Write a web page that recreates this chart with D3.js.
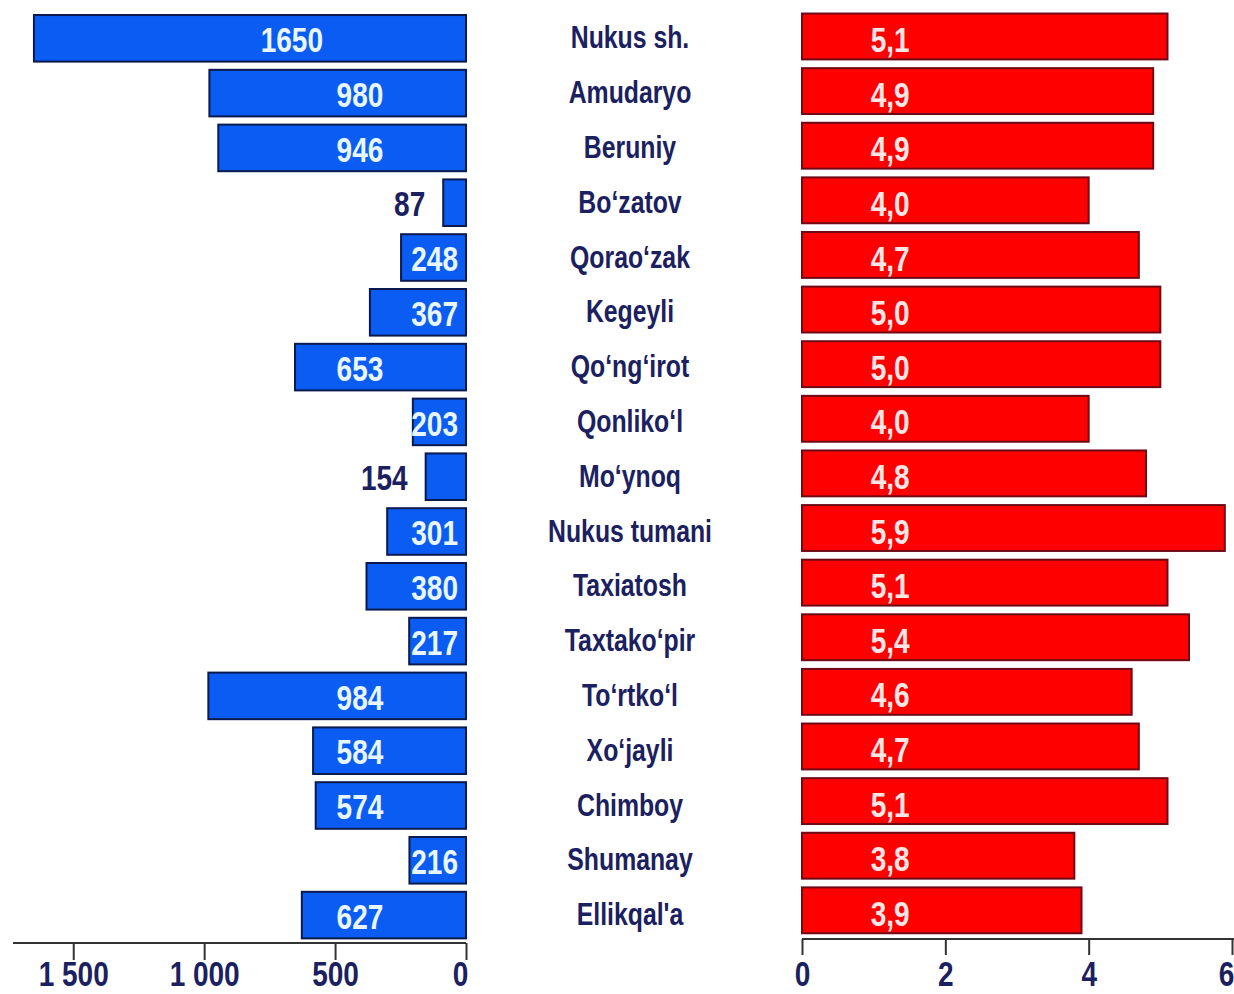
<!DOCTYPE html>
<html><head><meta charset="utf-8">
<script src="https://cdn.jsdelivr.net/npm/d3@7"></script>
<style>
html,body{margin:0;padding:0;background:#fff;}
svg{display:block;}
text{font-family:"Liberation Sans Narrow","Liberation Sans",Arial,sans-serif;font-weight:bold;}
</style></head>
<body>
<svg id="chart" width="1234" height="994"></svg>
<script>
const categories = ["Nukus sh.","Amudaryo","Beruniy","Bo‘zatov","Qorao‘zak","Kegeyli","Qo‘ng‘irot","Qonliko‘l","Mo‘ynoq","Nukus tumani","Taxiatosh","Taxtako‘pir","To‘rtko‘l","Xo‘jayli","Chimboy","Shumanay","Ellikqal'a"];
const leftValues = [1650,980,946,87,248,367,653,203,154,301,380,217,984,584,574,216,627];
const rightValues = [5.1,4.9,4.9,4.0,4.7,5.0,5.0,4.0,4.8,5.9,5.1,5.4,4.6,4.7,5.1,3.8,3.9];
const leftTicks = [0,500,1000,1500];
const leftTickLabels = ["0","500","1 000","1 500"];
const rightTicks = [0,2,4,6];
const rightTickLabels = ["0","2","4","6"];

const svg = d3.select("#chart");
const navy = "#1b2160";
const SX = 0.8; // narrow font emulation

const xL = d3.scaleLinear().domain([0,1730]).range([466,13]);
const xR = d3.scaleLinear().domain([0,6]).range([802,1232]);
const yL = d3.scaleBand().domain(categories).range([6.8,946.6]).paddingInner(0.15).paddingOuter(0.15);
const yR = d3.scaleBand().domain(categories).range([4.8,942]).paddingInner(0.16).paddingOuter(0.16);

function place(sel, fx, fy) {
  sel.attr("transform", (d,i) => `translate(${fx(d,i)},${fy(d,i)}) scale(${SX},1)`);
}

// Left bars
svg.append("g").selectAll("rect").data(leftValues).join("rect")
  .attr("x", d => xL(d)).attr("y", (d,i) => yL(categories[i]))
  .attr("width", d => xL(0) - xL(d)).attr("height", yL.bandwidth())
  .attr("fill", "#0b5cf2").attr("stroke", "#0b1a4e").attr("stroke-width", 2);

// Left labels
svg.append("g").selectAll("text").data(leftValues).join("text")
  .call(place, d => d < 180 ? xL(d) - 18 : d < 400 ? xL(0) - 8 : d >= 1000 ? xL(665) : xL(405),
               (d,i) => yL(categories[i]) + yL.bandwidth()/2 + 1)
  .attr("dy", "0.36em")
  .attr("text-anchor", d => d < 400 ? "end" : "middle")
  .attr("font-size", 35)
  .attr("fill", d => d < 180 ? navy : "#e8f6ff")
  .text(d => d);

// Right bars
svg.append("g").selectAll("rect").data(rightValues).join("rect")
  .attr("x", xR(0)).attr("y", (d,i) => yR(categories[i]))
  .attr("width", d => xR(d) - xR(0)).attr("height", yR.bandwidth())
  .attr("fill", "#ff0000").attr("stroke", "#6e0a16").attr("stroke-width", 2);

svg.append("g").selectAll("text").data(rightValues).join("text")
  .call(place, () => xR(1.23), (d,i) => yR(categories[i]) + yR.bandwidth()/2 + 3)
  .attr("dy", "0.36em")
  .attr("text-anchor", "middle")
  .attr("font-size", 35)
  .attr("fill", "#ffe6e6")
  .text(d => d.toFixed(1).replace(".", ","));

// Category labels
svg.append("g").selectAll("text").data(categories).join("text")
  .call(place, () => 630, d => yL(d) + yL.bandwidth()/2 - 1)
  .attr("dy", "0.36em")
  .attr("text-anchor", "middle")
  .attr("font-size", 31)
  .attr("fill", navy)
  .text(d => d);

// Left axis
const axL = svg.append("g").attr("transform", "translate(0,943)")
  .call(d3.axisBottom(xL).tickValues(leftTicks).tickFormat((d,i) => leftTickLabels[i]).tickSize(17));
axL.select(".domain").attr("stroke", "#333").attr("stroke-width", 2).attr("d", `M${xL(1730)},0H${xL(0)}`);
axL.selectAll(".tick line").attr("stroke", "#333").attr("stroke-width", 2);
axL.selectAll(".tick text").attr("font-size", 35).attr("fill", navy)
  .attr("font-family", '"Liberation Sans Narrow","Liberation Sans",Arial,sans-serif')
  .attr("y", 43).attr("dy", 0)
  .attr("transform", d => d === 0 ? `translate(-6,0) scale(${SX},1)` : `scale(${SX},1)`);

// Right axis
const axR = svg.append("g").attr("transform", "translate(0,939)")
  .call(d3.axisBottom(xR).tickValues(rightTicks).tickFormat((d,i) => rightTickLabels[i]).tickSize(16));
axR.select(".domain").attr("stroke", "#333").attr("stroke-width", 2).attr("d", `M${xR(0)},0H1234`);
axR.selectAll(".tick line").attr("stroke", "#333").attr("stroke-width", 2);
axR.selectAll(".tick text").attr("font-size", 35).attr("fill", navy)
  .attr("font-family", '"Liberation Sans Narrow","Liberation Sans",Arial,sans-serif')
  .attr("y", 47).attr("dy", 0)
  .attr("transform", d => d === 6 ? `translate(-6,0) scale(${SX},1)` : `scale(${SX},1)`);
</script>
</body></html>
